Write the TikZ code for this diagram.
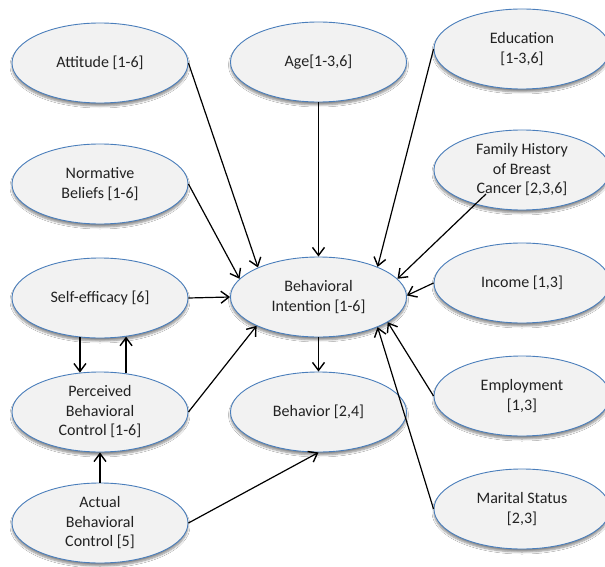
\documentclass[tikz,border=0pt]{standalone}
\usepackage{fontspec}
\setmainfont{Carlito}
\usetikzlibrary{shapes.geometric,arrows.meta,calc,shadows.blur}
\definecolor{ellblue}{HTML}{4A7EBB}
\definecolor{ellfill}{HTML}{F2F2F2}
\definecolor{txt}{HTML}{222222}
\begin{document}
\begin{tikzpicture}[x=1pt,y=-1pt,
  var/.style={ellipse, draw=ellblue, line width=0.9pt, fill=ellfill,
    minimum width=176pt, minimum height=80pt, inner sep=-3pt, align=center,
    font=\fontsize{16}{19.5}\selectfont, text=txt,
    blur shadow={shadow xshift=0pt, shadow yshift=-3pt, shadow blur radius=2pt,
      shadow blur steps=6, shadow opacity=45}},
  link/.style={line width=1.2pt, -{Straight Barb[length=8pt,width=12pt,line width=1.4pt]}}]
\useasboundingbox (0,0) rectangle (605,567);
\fill[white] (0,0) rectangle (605,567);

\node[var] (att)  at (100,63)    {Attitude [1-6]};
\node[var] (age)  at (318.5,62)  {Age[1-3,6]};
\node[var] (edu)  at (522,49)    {Education\\{}[1-3,6]};
\node[var] (norm) at (100,184)   {Normative\\Beliefs [1-6]};
\node[var] (fam)  at (522,170)   {Family History\\of Breast\\Cancer [2,3,6]};
\node[var] (inc)  at (522,283)   {Income [1,3]};
\node[var] (self) at (100,298)   {Self-efficacy [6]};
\node[var] (bi)   at (318.5,297) {Behavioral\\Intention [1-6]};
\node[var] (pbc)  at (100,412)   {Perceived\\Behavioral\\Control [1-6]};
\node[var] (beh)  at (318.5,412) {Behavior [2,4]};
\node[var] (emp)  at (522,396)   {Employment\\{}[1,3]};
\node[var] (abc)  at (100,523)   {Actual\\Behavioral\\Control [5]};
\node[var] (mar)  at (522,509)   {Marital Status\\{}[2,3]};

\coordinate (famtail) at ($(fam.center)+(-36,24)$);

\draw[link] (att.east) -- (bi.154);
\draw[link] (norm.east) -- (bi.167);
\draw[link] (age.south) -- (bi.north);
\draw[link] (edu.west) -- (bi.27);
\draw[link] (famtail) -- (bi.13);
\draw[link] (inc.west) -- (bi.1);
\draw[link] (self.east) -- (bi.west);
\draw[link] (pbc.east) -- (bi.205);
\draw[link] (emp.west) -- (bi.340);
\draw[link] (mar.west) -- (bi.333);
\draw[link] (bi.south) -- (beh.north);
\draw[link] (self.243) -- (pbc.117);
\draw[link] (pbc.56) -- (self.304);
\draw[link] (abc.north) -- (pbc.south);
\draw[link] (abc.east) -- (beh.south);
\end{tikzpicture}
\end{document}
